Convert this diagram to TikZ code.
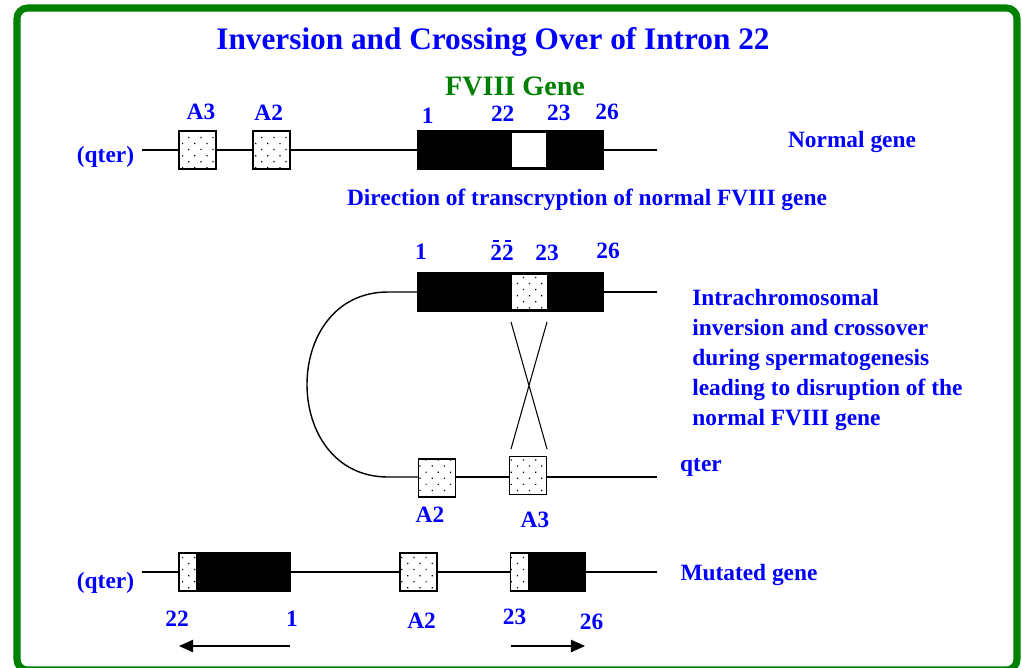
\documentclass[tikz,border=0pt]{standalone}
\usepackage{fontspec}
\setmainfont{Liberation Serif}
\usetikzlibrary{arrows.meta, patterns.meta}
\definecolor{FG}{RGB}{0,128,0}
\definecolor{TB}{RGB}{0,0,255}
\newcommand{\lblfont}{\fontsize{13.3}{17}\selectfont\bfseries}
\newcommand{\bdig}[1]{\ooalign{#1\cr\hidewidth\raisebox{0.8em}{\rule{0.28em}{0.07em}}\hidewidth\cr}}

\begin{document}
\begin{tikzpicture}[x=0.02cm, y=-0.02cm,
  frame/.style={draw=FG, line width=4pt, rounded corners=6pt},
  chrom/.style={line width=0.8pt},
  probe/.style={draw, line width=0.8pt, preaction={fill=white},
                pattern={Dots[distance=4.9pt, angle=45, radius=0.5pt]},
                minimum width=0.74cm, minimum height=0.76cm, inner sep=0pt},
  exon/.style={draw, fill=black, line width=0.8pt,
               minimum height=0.76cm, inner sep=0pt},
  intron/.style={draw, fill=white, line width=0.6pt,
                 minimum width=0.72cm, minimum height=0.7cm, inner sep=0pt},
  lbl/.style={text=TB, font=\lblfont, inner sep=0pt},
  arr/.style={-{Triangle[length=8pt, width=7pt]}, line width=0.8pt}
]
\useasboundingbox (0,0) rectangle (1022,667);
\draw[frame] (17,8) rectangle (1017,670);

\node[lbl, font=\fontsize{17.8}{20}\selectfont\bfseries] (title) at (493,42)
  {Inversion and Crossing Over of Intron 22};
\node[lbl, text=FG, font=\fontsize{16}{18}\selectfont\bfseries] (fgene) at (515,86)
  {FVIII Gene};

% Normal gene
\coordinate (n0) at (142,150);
\coordinate (n1) at (657,150);
\node[probe] (na3) at (197.5,150) {};
\node[probe] (na2) at (271.5,150) {};
\node[exon, minimum width=3.7cm] (nex) at (510.5,150) {};
\node[intron] (nin) at (529,150) {};
\draw[chrom] (n0)--(na3) (na3)--(na2) (na2)--(nex) (nex)--(n1);

\node[lbl] (nqt) at (105.5,157) {(qter)};
\node[lbl] (na3l) at (201,111.7) {A3};
\node[lbl] (na2l) at (268.7,113) {A2};
\node[lbl] (ne1) at (427.6,116) {1};
\node[lbl] (ne22) at (502.7,114) {22};
\node[lbl] (ne23) at (558.8,112.7) {23};
\node[lbl] (ne26) at (607,111.7) {26};
\node[lbl] (ngene) at (852,141.7) {Normal gene};
\node[lbl] (dirt) at (587,200) {Direction of transcryption of normal FVIII gene};

% Inversion loop
\node[exon, minimum width=3.7cm] (mex) at (510.5,292) {};
\node[probe, minimum width=0.72cm, minimum height=0.72cm] (min) at (529.5,292) {};
\coordinate (mend) at (657,292);
\coordinate (lpT) at (388,292);
\coordinate (lpB) at (388,477);
\node[probe] (ma2) at (437,478) {};
\node[probe] (ma3) at (528,475.5) {};
\coordinate (bend) at (657,477);
\draw[chrom] (mex)--(mend);
\draw[chrom] (mex.west)--(lpT) .. controls (280,292) and (280,477) .. (lpB)
  --(lpB -| ma2.west);
\draw[chrom] (ma2.east |- lpB)--(ma3.west |- lpB) (ma3.east |- lpB)--(bend);

% Crossover
\coordinate (cx1) at (511,322);
\coordinate (cx2) at (547,322);
\coordinate (cx3) at (511,449);
\coordinate (cx4) at (547,449);
\draw[chrom, line width=0.6pt] (cx1)--(cx4) (cx2)--(cx3);

\node[lbl] (me1) at (421,251.7) {1};
\node[lbl] (me22) at (502,252.7) {\bdig{2}\bdig{2}};
\node[lbl] (me23) at (547,253) {23};
\node[lbl] (me26) at (608,250.7) {26};
\node[lbl] (ma2l) at (430,515) {A2};
\node[lbl] (ma3l) at (535,520) {A3};
\node[lbl] (mqt) at (701,467) {qter};
\node[lbl, align=left, anchor=north west] (note) at (692,289)
  {Intrachromosomal\\ inversion and crossover\\ during spermatogenesis\\
   leading to disruption of the\\ normal FVIII gene};

% Mutated gene
\coordinate (b0) at (142,572);
\coordinate (b1) at (657,572);
\node[exon, minimum width=1.87cm] (bex1) at (243.75,572) {};
\node[probe, minimum width=0.36cm] (bp1) at (188,572) {};
\node[probe] (ba2) at (418.5,572) {};
\node[probe, minimum width=0.36cm] (bp3) at (519.5,572) {};
\node[exon, minimum width=1.14cm] (bex3) at (557,572) {};
\draw[chrom] (b0)--(bp1) (bex1)--(ba2) (ba2)--(bp3) (bex3)--(b1);

\node[lbl] (bqt) at (105.5,583) {(qter)};
\node[lbl] (be22) at (177,619) {22};
\node[lbl] (be1) at (292,619) {1};
\node[lbl] (ba2l) at (421.6,621) {A2};
\node[lbl] (be23) at (514.5,617) {23};
\node[lbl] (be26) at (591.6,621.7) {26};
\node[lbl] (mgene) at (749,575) {Mutated gene};

% Transcription direction
\coordinate (al0) at (290,646);
\coordinate (al1) at (179,646);
\coordinate (ar0) at (511,646);
\coordinate (ar1) at (585,646);
\draw[arr] (al0)--(al1);
\draw[arr] (ar0)--(ar1);
\end{tikzpicture}
\end{document}
